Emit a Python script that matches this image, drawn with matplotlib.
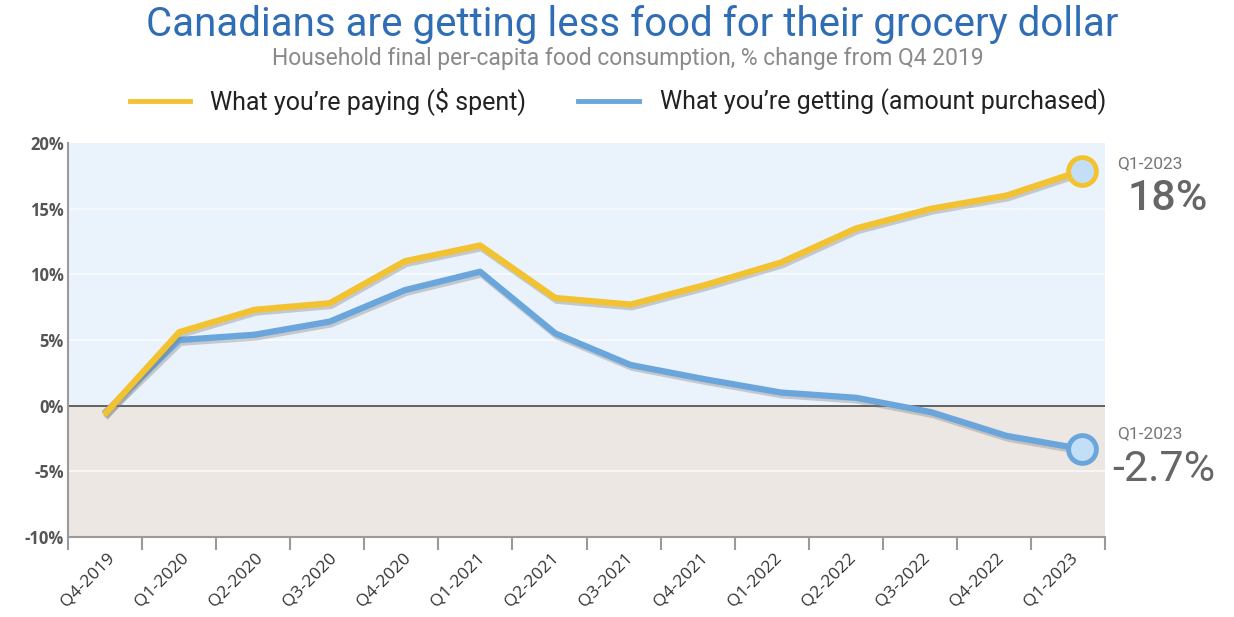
import matplotlib
matplotlib.use('Agg')
import matplotlib.pyplot as plt
import matplotlib.patheffects as pe
import numpy as np

# data
quarters = ['Q4-2019', 'Q1-2020', 'Q2-2020', 'Q3-2020', 'Q4-2020', 'Q1-2021', 'Q2-2021',
            'Q3-2021', 'Q4-2021', 'Q1-2022', 'Q2-2022', 'Q3-2022', 'Q4-2022', 'Q1-2023']
paying = [-0.7, 5.6, 7.3, 7.8, 11.0, 12.2, 8.2, 7.7, 9.2, 10.9, 13.5, 15.0, 16.0, 17.9]
getting = [-0.6, 5.0, 5.4, 6.4, 8.8, 10.2, 5.5, 3.1, 2.0, 1.0, 0.6, -0.5, -2.3, -3.3]
yticks = [-10, -5, 0, 5, 10, 15, 20]
end_labels = ['18%', '-2.7%']

YELLOW = '#F2C230'
BLUE = '#6AA6DB'
FILL = '#C3DFF7'
GREY = '#666666'

fig = plt.figure(figsize=(12.34, 6.17), dpi=100)
ax = fig.add_axes([0.0551, 0.1297, 0.8404, 0.6385])

xlim = (-0.48, 13.31)
ax.set_xlim(*xlim)
ax.set_ylim(-10, 20)

# background bands
ax.axhspan(0, 20, color='#EAF3FC', zorder=0)
ax.axhspan(-10, 0, color='#ECE7E3', zorder=0)
for yv in [-5, 5, 10, 15]:
    ax.axhline(yv, color='white', lw=1.2, alpha=0.8, zorder=1)
ax.axhline(0, color='#555555', lw=1.3, zorder=2)

x = np.arange(len(quarters))
shadow = [pe.SimpleLineShadow(offset=(1, -2), shadow_color='#7a7a7a', alpha=0.35), pe.Normal()]
ax.plot(x, paying, color=YELLOW, lw=4.5, solid_capstyle='butt', zorder=4, path_effects=shadow)
ax.plot(x, getting, color=BLUE, lw=4.5, solid_capstyle='butt', zorder=3, path_effects=shadow)

# end markers
ax.plot(x[-1], paying[-1], 'o', ms=20, mfc=FILL, mec=YELLOW, mew=3.5, zorder=5)
ax.plot(x[-1], getting[-1], 'o', ms=20, mfc=FILL, mec=BLUE, mew=3.5, zorder=5)

# end annotations
ax.annotate(quarters[-1], xy=(1.012, paying[-1]), xycoords=('axes fraction', 'data'),
            xytext=(0, 5), textcoords='offset points', ha='left', va='center',
            fontsize=12.5, color='#777777', family='Roboto', annotation_clip=False)
ax.annotate(end_labels[0], xy=(1.022, paying[-1]), xycoords=('axes fraction', 'data'),
            xytext=(0, -20), textcoords='offset points', ha='left', va='center',
            fontsize=31, color=GREY, family='Roboto', fontweight='medium', annotation_clip=False)
ax.annotate(quarters[-1], xy=(1.012, getting[-1]), xycoords=('axes fraction', 'data'),
            xytext=(0, 11), textcoords='offset points', ha='left', va='center',
            fontsize=12.5, color='#777777', family='Roboto', annotation_clip=False)
ax.annotate(end_labels[1], xy=(1.007, getting[-1]), xycoords=('axes fraction', 'data'),
            xytext=(0, -15), textcoords='offset points', ha='left', va='center',
            fontsize=31, color=GREY, family='Roboto', annotation_clip=False)

# axes styling
for s in ['top', 'right']:
    ax.spines[s].set_visible(False)
ax.spines['left'].set_color('#9a9a9a')
ax.spines['bottom'].set_color('#9a9a9a')
ax.spines['left'].set_linewidth(1.5)
ax.spines['bottom'].set_linewidth(1.5)

ax.set_yticks(yticks)
ax.set_yticklabels([f'{v}%' for v in yticks], fontsize=12, fontweight='bold',
                   color='#555555', family='Open Sans')
ax.tick_params(axis='y', length=0, pad=3)

edges = np.linspace(xlim[0], xlim[1], 15)
ax.set_xticks(edges)
ax.set_xticklabels([])
ax.tick_params(axis='x', which='major', length=9, width=1.5, color='#9a9a9a', direction='out')
centers = (edges[:-1] + edges[1:]) / 2 + 0.02
ax.set_xticks(centers, minor=True)
ax.set_xticklabels(quarters, minor=True, rotation=45, ha='right', rotation_mode='anchor',
                   fontsize=12.5, color='#333333', family='Open Sans')
ax.tick_params(axis='x', which='minor', length=0, pad=9)

# title, subtitle, legend
fig.text(0.512, 0.960, 'Canadians are getting less food for their grocery dollar',
         ha='center', va='center', fontsize=29, color='#2F6DB5', family='Roboto')
fig.text(0.509, 0.905, 'Household final per-capita food consumption, % change from Q4 2019',
         ha='center', va='center', fontsize=16.5, color='#8a8a8a', family='Roboto')

fig.lines.append(plt.Line2D([0.105, 0.154], [0.836, 0.836], transform=fig.transFigure,
                            color=YELLOW, lw=3.5))
fig.text(0.170, 0.836, 'What you\u2019re paying ($ spent)', ha='left', va='center',
         fontsize=18, color='#222222', family='Roboto')
fig.lines.append(plt.Line2D([0.468, 0.518], [0.836, 0.836], transform=fig.transFigure,
                            color=BLUE, lw=3.5))
fig.text(0.535, 0.836, 'What you\u2019re getting (amount purchased)', ha='left', va='center',
         fontsize=18, color='#222222', family='Roboto')

fig.savefig('out.png', dpi=100)
